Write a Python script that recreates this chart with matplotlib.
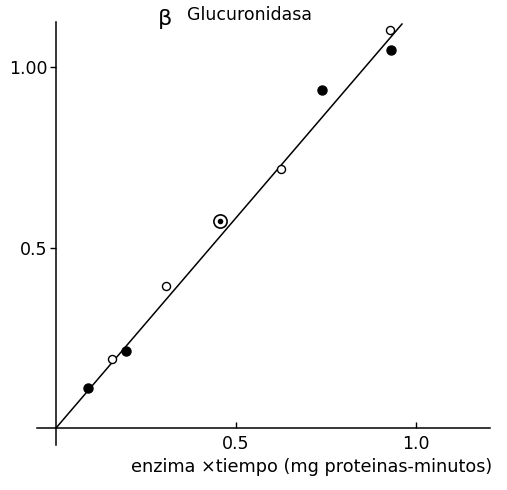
import matplotlib
matplotlib.use("Agg")
import matplotlib.pyplot as plt

# Data
filled_x = [0.089, 0.194, 0.739, 0.931]
filled_y = [0.111, 0.213, 0.936, 1.047]
open_x = [0.156, 0.306, 0.625, 0.928]
open_y = [0.191, 0.393, 0.717, 1.102]
circled_x = [0.456]
circled_y = [0.573]
fit_x = [0.0, 0.961]
fit_y = [0.0, 1.119]

xticks = [0.5, 1.0]
xtick_labels = ["0.5", "1.0"]
yticks = [0.5, 1.0]
ytick_labels = ["0.5", "1.00"]

fig = plt.figure(figsize=(5.07, 4.90), dpi=100)
ax = fig.add_axes([0, 0, 1, 1])
ax.set_xlim(-0.1556, 1.2528)
ax.set_ylim(-0.1717, 1.1856)

for s in ["top", "right"]:
    ax.spines[s].set_visible(False)
ax.spines["left"].set_position(("data", 0))
ax.spines["bottom"].set_position(("data", 0))
ax.spines["left"].set_bounds(-0.047, 1.125)
ax.spines["bottom"].set_bounds(-0.053, 1.206)
ax.spines["left"].set_linewidth(1.1)
ax.spines["bottom"].set_linewidth(1.1)

ax.set_xticks(xticks)
ax.set_xticklabels(xtick_labels)
ax.set_yticks(yticks)
ax.set_yticklabels(ytick_labels)
ax.tick_params(axis="x", direction="in", length=4, width=1, labelsize=12.5, pad=5)
ax.tick_params(axis="y", direction="out", length=4, width=1, labelsize=12.5, pad=2)

ax.plot(fit_x, fit_y, color="black", lw=1.1, zorder=2)
ax.plot(filled_x, filled_y, "o", color="black", ms=6.5, zorder=3)
ax.plot(open_x, open_y, "o", mfc="white", mec="black", mew=1.0, ms=5.8, zorder=3)
ax.plot(circled_x, circled_y, "o", mfc="white", mec="black", mew=1.2, ms=9.5, zorder=3)
ax.plot(circled_x, circled_y, "o", color="black", ms=3, zorder=4)

fig.text(0.325, 0.962, "β", fontsize=16, ha="center", va="center")
fig.text(0.369, 0.970, "Glucuronidasa", fontsize=12.5, ha="left", va="center")
fig.text(0.614, 0.046, "enzima ×tiempo (mg proteinas-minutos)", fontsize=12.7,
         ha="center", va="center")

fig.savefig("out.png", dpi=100)
